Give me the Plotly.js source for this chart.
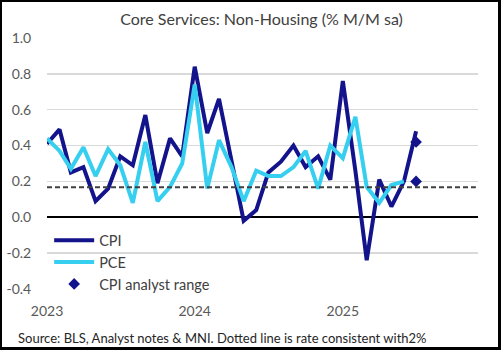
<!DOCTYPE html>
<html>
<head>
<meta charset="utf-8">
<script src="https://cdn.plot.ly/plotly-3.0.1.min.js"></script>
<style>
html,body{margin:0;padding:0;background:#fff;}
#wrap{position:relative;width:501px;height:350px;}
#chart{width:501px;height:350px;}
#frame{position:absolute;left:0;top:0;width:501px;height:350px;box-sizing:border-box;border-left:2px solid #000;border-top:2px solid #000;border-right:3px solid #000;border-bottom:3px solid #000;pointer-events:none;}
</style>
</head>
<body>
<div id="wrap"><div id="chart"></div><div id="frame"></div></div>
<script>
// Months (first of month)
const cpiMonths = [
 '2023-01-01','2023-02-01','2023-03-01','2023-04-01','2023-05-01','2023-06-01','2023-07-01','2023-08-01','2023-09-01','2023-10-01','2023-11-01','2023-12-01',
 '2024-01-01','2024-02-01','2024-03-01','2024-04-01','2024-05-01','2024-06-01','2024-07-01','2024-08-01','2024-09-01','2024-10-01','2024-11-01','2024-12-01',
 '2025-01-01','2025-02-01','2025-03-01','2025-04-01','2025-05-01','2025-06-01','2025-07-01'
];
const cpiValues = [
 0.41,0.49,0.25,0.28,0.09,0.16,0.34,0.29,0.57,0.19,0.44,0.34,
 0.84,0.47,0.66,0.30,-0.02,0.04,0.25,0.31,0.40,0.28,0.34,0.21,
 0.76,0.26,-0.24,0.21,0.06,0.20,0.48
];
const pceMonths = cpiMonths.slice(0, 30);
const pceValues = [
 0.44,0.37,0.27,0.39,0.23,0.38,0.29,0.08,0.42,0.09,0.17,0.30,
 0.74,0.16,0.43,0.28,0.09,0.26,0.23,0.23,0.28,0.37,0.16,0.40,
 0.33,0.56,0.17,0.08,0.18,0.20
];
const rangeMonths = ['2025-07-01','2025-07-01'];
const rangeValues = [0.42, 0.20];
const consistentRate = 0.167;
const yTickVals = [-0.4,-0.2,0.0,0.2,0.4,0.6,0.8,1.0];
const yTickText = ['-0.4','-0.2','0.0','0.2','0.4','0.6','0.8','1.0'];
const xTickVals = ['2023-01-01','2024-01-01','2025-01-01'];
const xTickText = ['2023','2024','2025'];

const FONT = 'Lato, "Open Sans", sans-serif';
const navy = '#13138c';
const cyan = '#36cff0';

const traces = [
 {x: cpiMonths, y: cpiValues, type:'scatter', mode:'lines', name:'CPI',
  line:{color:navy, width:4}},
 {x: pceMonths, y: pceValues, type:'scatter', mode:'lines', name:'PCE',
  line:{color:cyan, width:4}},
 {x: rangeMonths, y: rangeValues, type:'scatter', mode:'markers', name:'CPI analyst range',
  marker:{symbol:'diamond', color:navy, size:9}}
];

const layout = {
 width:501, height:350,
 margin:{l:47, r:23, t:37.5, b:60.7},
 paper_bgcolor:'#fff', plot_bgcolor:'#fff',
 font:{family:FONT, color:'#595959', size:14},
 title:{text:'Core Services: Non-Housing (% M/M sa)', font:{family:FONT, size:16, color:'#404040'},
   x:0.522, xanchor:'center', y:0.945, yanchor:'middle'},
 xaxis:{type:'date', range:['2023-01-01','2025-12-01'], showgrid:false, zeroline:false,
   tickvals:xTickVals, ticktext:xTickText, ticks:'outside', ticklen:9, tickcolor:'rgba(0,0,0,0)',
   showline:false, tickfont:{size:14, color:'#595959'}, fixedrange:true},
 yaxis:{range:[-0.4,1.0], tickvals:yTickVals, ticktext:yTickText, showgrid:true, gridcolor:'#d9d9d9', gridwidth:1.5,
   zeroline:true, zerolinecolor:'#000', zerolinewidth:2, ticks:'outside', ticklen:12, tickcolor:'rgba(0,0,0,0)',
   tickfont:{size:14, color:'#595959'}, fixedrange:true},
 shapes:[{type:'line', xref:'paper', x0:0, x1:0.995, yref:'y', y0:consistentRate, y1:consistentRate,
   line:{color:'#404040', width:2, dash:'5px,3px'}}],
 legend:{x:0.005, y:-0.045, xanchor:'left', yanchor:'bottom', bgcolor:'rgba(255,255,255,0)',
   font:{family:FONT, size:14.5, color:'#404040'}, tracegroupgap:0, itemwidth:40},
 showlegend:true,
 annotations:[{text:'Source: BLS, Analyst notes & MNI. Dotted line is rate consistent with2%', xref:'paper', yref:'paper',
   x:-0.072, xanchor:'left', y:-0.197, yanchor:'middle', yshift:0, showarrow:false,
   font:{family:FONT, size:13, color:'#262626'}}]
};
Plotly.newPlot('chart', traces, layout, {displayModeBar:false, staticPlot:true});
</script>
</body>
</html>
